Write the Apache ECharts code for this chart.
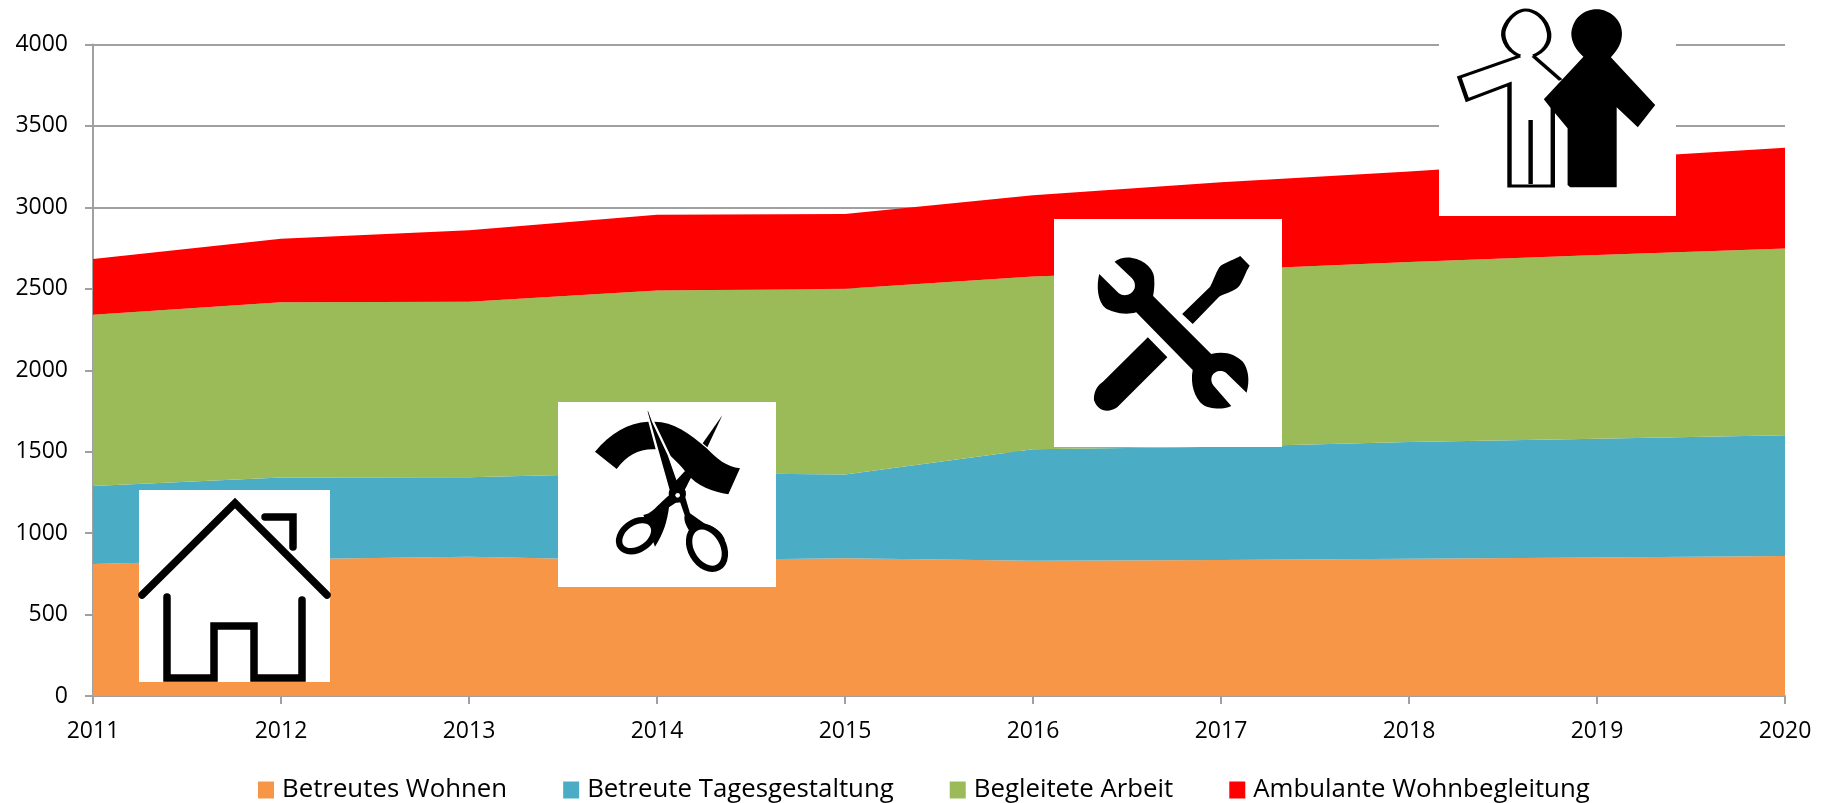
<!DOCTYPE html>
<html>
<head>
<meta charset="utf-8">
<style>html,body{margin:0;padding:0;background:#fff}#c{width:1828px;height:803px}</style>
<script src="https://cdn.jsdelivr.net/npm/echarts@6/dist/echarts.min.js"></script>
</head>
<body>
<div id="c"></div>
<script>
const years = ['2011','2012','2013','2014','2015','2016','2017','2018','2019','2020'];
const betreutesWohnen = [811,839,855,832,846,830,835,842,850,860];
const betreuteTagesgestaltung = [479,502,488,538,514,685,695,718,730,741];
const begleiteteArbeit = [1051,1076,1078,1120,1140,1061,1085,1105,1128,1147];
const ambulanteWohnbegleitung = [342,390,438,465,460,499,540,556,587,618];

function reg(name, d){ echarts.graphic.registerShape(name, echarts.graphic.extendPath(d, {})); }
const shapes = {
  houseLines:'M142 595L235 503L327 595M265 517L293 517L293 547M167 597L167 678L214 678L214 626L254 626L254 678L302 678L302 600',
  wrench:'M217 785C225 775 240 770 250 774C275 780 292 810 292 835C293 855 292 870 290 888L400 1062C425 1052 445 1062 460 1085C470 1105 474 1140 467 1178L428 1118C420 1108 405 1112 401 1130C399 1140 401 1150 405 1158L438 1218C420 1232 395 1225 385 1215C368 1195 360 1150 365 1110L258 937C235 948 210 935 200 925C185 905 182 860 188 822L225 880C235 892 250 885 255 865C257 852 254 842 250 835Z',
  driverTop:'M455 768L473 797C465 815 460 845 452 860C442 875 425 880 415 890L365 972L345 942L398 860C405 840 410 810 418 797C430 785 445 778 455 768Z',
  driverHandle:'M280 1012L317 1072L222 1222C205 1240 185 1235 178 1200C177 1175 185 1155 195 1145Z',
  personOutline:'M985 168L870 232L885 300L965 252L965 558L1047 558L1047 310M1005 360L1005 552M1010 168L1062 240M985 168C955 150 950 105 955 85C965 45 985 30 995 30C1010 30 1035 50 1040 100C1042 130 1030 155 1010 168',
  personSolid:'M1105 170C1090 150 1082 125 1082 100C1085 55 1105 28 1130 28C1155 28 1178 60 1178 100C1178 130 1170 150 1157 172L1241 315L1208 382L1168 322L1168 562L1080 562L1075 555L1075 385L1040 318L1030 298Z',
  ribbonLeft:'M165 185C210 130 265 97 325 95L347 178C300 175 260 195 230 237Z',
  ribbonRight:'M343 95C400 95 450 130 500 175C530 205 560 232 600 235L565 313C520 305 470 290 440 250C425 230 410 215 392 198Z',
  needle:'M547 76L502 172L488 160Z',
  blade:'M320 62L326 62L338 95L385 195L412 272L420 300L392 318Z',
  bladeStub:'M435 243L457 255L428 312L405 275Z',
  connectL:'M392 312L412 335L387 352C382 390 372 430 345 470L310 375C340 370 350 345 392 312Z',
  connectR:'M418 330L436 322L450 370L500 405C525 410 545 425 555 450L450 425C436 405 431 390 434 376Z',
  handleL:'M242.5 470.3A58 40 -35 1 1 337.5 403.7A58 40 -35 1 1 242.5 470.3Z',
  handleR:'M467 414.1A68 48 60 1 1 535 531.9A68 48 60 1 1 467 414.1Z'
};
Object.keys(shapes).forEach(k => reg(k, shapes[k]));
const el = (type, fill) => ({type, z:101, style:{fill:fill||'#000'}});
const white = (x,y,w,h) => ({type:'rect', shape:{x,y,width:w,height:h}, style:{fill:'#fff'}, z:100});

const graphic = [
  white(139,490,191,192),
  {type:'houseLines', z:101, style:{fill:'none', stroke:'#000', lineWidth:7.5, lineCap:'round', lineJoin:'miter'}},
  white(558,402,218,185),
  {type:'group', x:540, y:390, scaleX:1/3, scaleY:1/3, children:[
    el('ribbonLeft'), el('ribbonRight'), el('needle'),
    {type:'blade', z:101, style:{fill:'#000', stroke:'#fff', lineWidth:4}},
    el('bladeStub'), el('connectL'), el('connectR'),
    {type:'circle', z:101, shape:{cx:412, cy:312, r:26}, style:{fill:'#000'}},
    {type:'handleL', z:101, style:{fill:'#fff', stroke:'#000', lineWidth:19}},
    {type:'handleR', z:101, style:{fill:'#fff', stroke:'#000', lineWidth:19}},
    {type:'circle', z:101, shape:{cx:413, cy:316, r:7}, style:{fill:'#fff'}}
  ]},
  white(1054,219,228,228),
  {type:'group', x:1000, y:0, scaleX:1/1.894, scaleY:1/3, children:[
    el('wrench'), el('driverTop'), el('driverHandle')
  ]},
  white(1439,0,237,216),
  {type:'group', x:1000, y:0, scaleX:1/1.894, scaleY:1/3, children:[
    {type:'personOutline', z:101, style:{fill:'none', stroke:'#000', lineWidth:3.5, strokeNoScale:true}},
    el('personSolid')
  ]}
];

const area = (name, data, color) => ({
  name, type:'line', stack:'total', data, symbol:'none', showSymbol:false, smooth:false,
  lineStyle:{width:0}, areaStyle:{color, opacity:1}, itemStyle:{color}, z:3, silent:true
});
const font = '"Open Sans", sans-serif';
const axisGray = '#a0a0a0';
const chart = echarts.init(document.getElementById('c'), null, {renderer:'canvas'});
chart.setOption({
  animation:false,
  backgroundColor:'#fff',
  grid:{left:93, right:43, top:44.5, bottom:107, containLabel:false},
  xAxis:{
    type:'category', boundaryGap:false, data:years,
    axisLine:{lineStyle:{color:axisGray, width:2}},
    axisTick:{show:true, length:8, lineStyle:{color:axisGray, width:2}},
    axisLabel:{interval:0, margin:24, color:'#000', fontFamily:font, fontSize:23},
    splitLine:{show:false}
  },
  yAxis:{
    type:'value', min:0, max:4000, interval:500,
    axisLine:{show:true, lineStyle:{color:axisGray, width:2}},
    axisTick:{show:true, length:8, lineStyle:{color:axisGray, width:2}},
    axisLabel:{margin:25, color:'#000', fontFamily:font, fontSize:23, formatter:v => String(v)},
    splitLine:{show:true, lineStyle:{color:axisGray, width:2}}
  },
  legend:{
    left:258, top:777, padding:0, itemWidth:16, itemHeight:17, itemGap:56, icon:'rect',
    textStyle:{color:'#000', fontFamily:font, fontSize:25.8, padding:[0,0,0,3]},
    data:['Betreutes Wohnen','Betreute Tagesgestaltung','Begleitete Arbeit','Ambulante Wohnbegleitung'],
    selectedMode:false
  },
  series:[
    area('Betreutes Wohnen', betreutesWohnen, '#F79646'),
    area('Betreute Tagesgestaltung', betreuteTagesgestaltung, '#4BACC6'),
    area('Begleitete Arbeit', begleiteteArbeit, '#9BBB59'),
    area('Ambulante Wohnbegleitung', ambulanteWohnbegleitung, '#FF0000')
  ],
  graphic
});
</script>
</body>
</html>
